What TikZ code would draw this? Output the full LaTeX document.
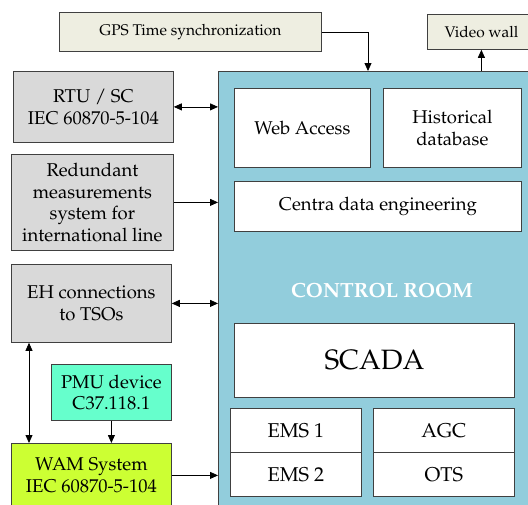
\documentclass[tikz,border=0pt]{standalone}
\usepackage[T1]{fontenc}
\usepackage{mathpazo}
\usetikzlibrary{arrows.meta}
\definecolor{crblue}{HTML}{92CDDC}
\definecolor{beige}{HTML}{EEEEE1}
\definecolor{lgray}{HTML}{D9D9D9}
\definecolor{pmucol}{HTML}{66FFCC}
\definecolor{wamcol}{HTML}{CCFF33}
\definecolor{edge}{HTML}{404040}
\begin{document}
\begin{tikzpicture}[x=1pt,y=-1pt,
  box/.style={draw=edge, line width=0.8pt, anchor=north west, inner sep=0pt, align=center,
    font=\fontsize{18.5}{21.5}\selectfont},
  small/.style={font=\fontsize{15.5}{18}\selectfont},
  ems/.style={font=\fontsize{20}{23}\selectfont},
  tip/.tip={Triangle[length=8pt,width=7pt]},
  arr/.style={-tip, line width=0.8pt},
  darr/.style={tip-tip, line width=0.8pt}]
\useasboundingbox (0,0) rectangle (528,504);
\clip (0,0) rectangle (528,504);
% outer boxes
\node[box, small, fill=beige, minimum width=262pt, minimum height=39pt] (gps) at (59,12) {GPS Time synchronization};
\node[box, small, fill=beige, minimum width=108pt, minimum height=35pt] (vw) at (427,14) {Video wall};
\node[box, fill=crblue, minimum width=330pt, minimum height=450pt] (cr) at (218,71) {};
\node[box, fill=lgray, minimum width=160pt, minimum height=71pt] (rtu) at (13,71) {RTU / SC\\IEC 60870-5-104};
\node[box, fill=lgray, minimum width=162pt, minimum height=96pt] (red) at (11,154) {Redundant\\measurements\\system for\\international line};
\node[box, fill=lgray, minimum width=160pt, minimum height=78pt] (eh) at (11,264) {EH connections\\to TSOs};
\node[box, fill=pmucol, minimum width=120pt, minimum height=56pt] (pmu) at (51,364) {PMU device\\C37.118.1};
\node[box, fill=wamcol, minimum width=160pt, minimum height=64pt] (wam) at (11,443) {WAM System\\IEC 60870-5-104};
% inner boxes
\node[box, fill=white, minimum width=136pt, minimum height=79pt] (web) at (234,88) {Web Access};
\node[box, fill=white, minimum width=138pt, minimum height=79pt] (hist) at (383,88) {Historical\\database};
\node[box, fill=white, minimum width=287pt, minimum height=50pt] (cde) at (234,181) {Centra data engineering};
\node[text=white, font=\fontsize{20.5}{24}\selectfont\bfseries] (crl) at (382,290) {CONTROL ROOM};
\node[box, fill=white, minimum width=280pt, minimum height=74pt, font=\fontsize{28}{32}\selectfont] (scada) at (234,323) {SCADA};
\node[box, ems, fill=white, minimum width=131pt, minimum height=44pt] (ems1) at (230,408) {EMS 1};
\node[box, ems, fill=white, minimum width=131pt, minimum height=44pt] (ems2) at (230,452) {EMS 2};
\node[box, ems, fill=white, minimum width=141pt, minimum height=44pt] (agc) at (373,408) {AGC};
\node[box, ems, fill=white, minimum width=141pt, minimum height=44pt] (ots) at (373,452) {OTS};
% connectors
\coordinate (gpsin) at (368,71);
\draw[arr] (gps.east) -| (gpsin);
\draw[arr] (vw.south |- cr.north) -- (vw.south);
\draw[darr] (rtu.east) -- (rtu.east -| cr.west);
\draw[arr] (red.east) -- (red.east -| cr.west);
\draw[darr] (eh.east) -- (eh.east -| cr.west);
\draw[darr] ([xshift=18pt]eh.south west) -- ([xshift=18pt]wam.north west);
\draw[arr] (pmu.south) -- (pmu.south |- wam.north);
\draw[arr] (wam.east) -- (wam.east -| cr.west);
\end{tikzpicture}
\end{document}
